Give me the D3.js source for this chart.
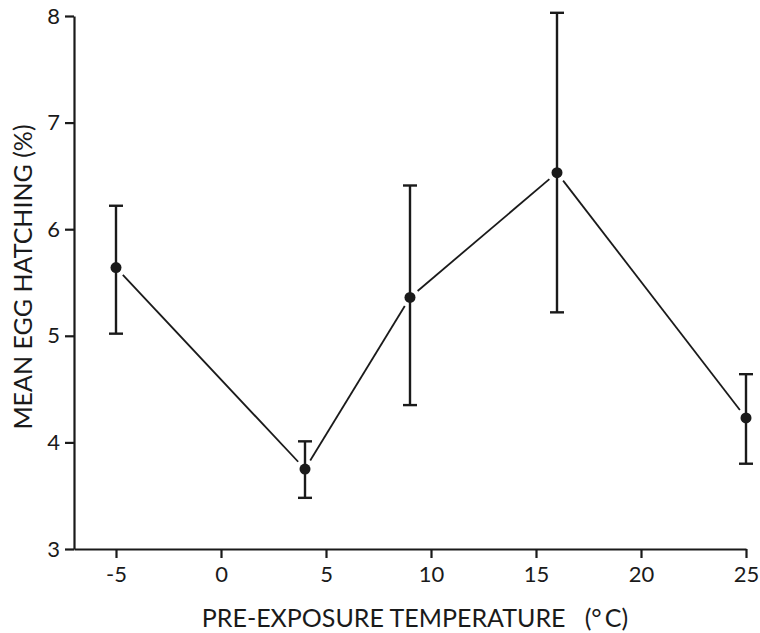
<!DOCTYPE html>
<html>
<head>
<meta charset="utf-8">
<script src="https://cdn.jsdelivr.net/npm/d3@7"></script>
<style>
  html, body { margin: 0; padding: 0; background: #fff; }
  svg { display: block; }
  text { font-family: "Lato", "DejaVu Sans", sans-serif; fill: #1a1a1a; }
</style>
</head>
<body>
<script>
// Data
const temps = [-5, 4, 9, 16, 25];
const means = [5.64, 3.75, 5.36, 6.53, 4.23];
const upper = [6.22, 4.01, 6.41, 8.03, 4.64];
const lower = [5.02, 3.48, 4.35, 5.22, 3.80];
const xTicks = [-5, 0, 5, 10, 15, 20, 25];
const yTicks = [3, 4, 5, 6, 7, 8];
const xTitle = "PRE-EXPOSURE TEMPERATURE\u00A0\u00A0\u00A0(\u00B0\u2009C)";
const yTitle = "MEAN EGG HATCHING (%)";

const W = 760, H = 633;
const ink = "#1a1a1a";
const svg = d3.select("body").append("svg").attr("width", W).attr("height", H);

const x = d3.scaleLinear().domain([-7, 25]).range([74, 746]);
const y = d3.scaleLinear().domain([3, 8]).range([549, 16]);

// Axes
const xAxis = svg.append("g").attr("transform", `translate(0,${y(3)})`)
  .call(d3.axisBottom(x).tickValues(xTicks).tickSize(9).tickSizeOuter(0).tickPadding(8)
    .tickFormat(d => String(d)));
const yAxis = svg.append("g").attr("transform", `translate(${x(-7)},0)`)
  .call(d3.axisLeft(y).tickValues(yTicks).tickSize(9).tickSizeOuter(0).tickPadding(5)
    .tickFormat(d => String(d)));

[xAxis, yAxis].forEach(g => {
  g.select(".domain").attr("stroke", ink).attr("stroke-width", 2.2);
  g.selectAll(".tick line").attr("stroke", ink).attr("stroke-width", 2.2);
  g.selectAll(".tick text").attr("fill", ink).style("font-size", "22px")
    .style("font-family", "Lato, 'DejaVu Sans', sans-serif");
});

// Axis titles
svg.append("text").attr("x", 415).attr("y", 627).attr("text-anchor", "middle")
  .style("font-size", "25px").text(xTitle);
svg.append("text").attr("transform", `translate(32,${277}) rotate(-90)`)
  .attr("text-anchor", "middle").style("font-size", "25px").text(yTitle);

// Connecting line segments (with a gap near each point)
const pts = temps.map((t, i) => ({ px: x(t), py: y(means[i]) }));
const gap = 10;
const segs = d3.pairs(pts).map(([a, b]) => {
  const dx = b.px - a.px, dy = b.py - a.py, L = Math.hypot(dx, dy);
  const ux = dx / L, uy = dy / L;
  return { x1: a.px + ux * gap, y1: a.py + uy * gap, x2: b.px - ux * gap, y2: b.py - uy * gap };
});
svg.append("g").selectAll("line").data(segs).join("line")
  .attr("x1", d => d.x1).attr("y1", d => d.y1).attr("x2", d => d.x2).attr("y2", d => d.y2)
  .attr("stroke", ink).attr("stroke-width", 1.8);

// Error bars
const eb = svg.append("g");
temps.forEach((t, i) => {
  const cx = x(t);
  eb.append("line").attr("x1", cx).attr("x2", cx).attr("y1", y(upper[i])).attr("y2", y(lower[i]))
    .attr("stroke", ink).attr("stroke-width", 2.4);
  [upper[i], lower[i]].forEach(v => {
    eb.append("line").attr("x1", cx - 7).attr("x2", cx + 7).attr("y1", y(v)).attr("y2", y(v))
      .attr("stroke", ink).attr("stroke-width", 2.4);
  });
});

// Points
svg.append("g").selectAll("circle").data(temps).join("circle")
  .attr("cx", d => x(d)).attr("cy", (d, i) => y(means[i])).attr("r", 5.5).attr("fill", ink);
</script>
</body>
</html>
